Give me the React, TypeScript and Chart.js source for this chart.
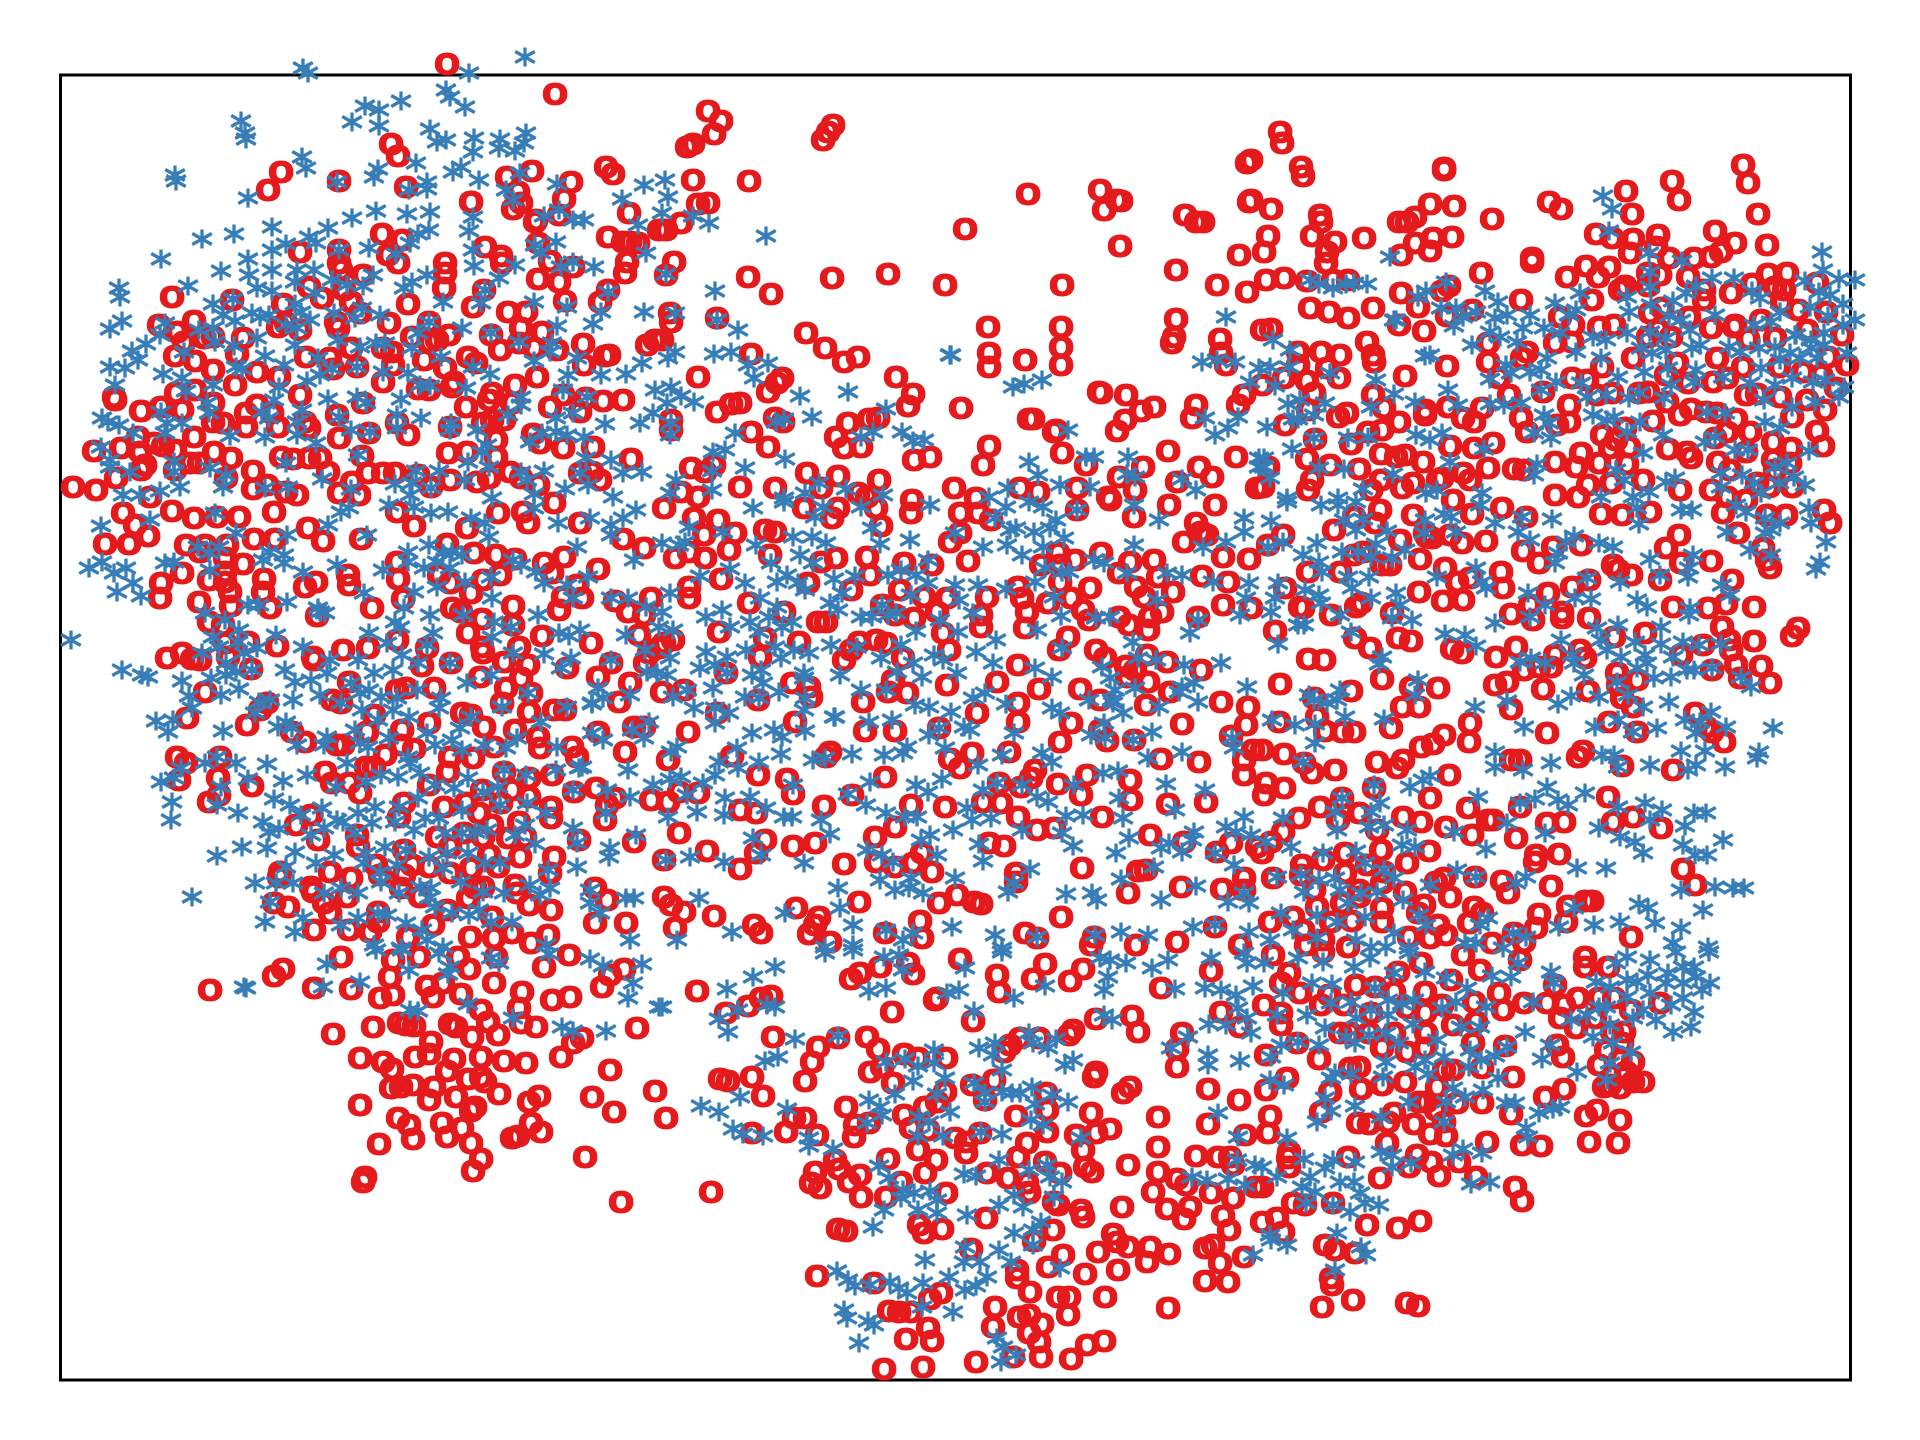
import React, { useEffect, useRef } from "react";
import { Chart, registerables } from "chart.js";

Chart.register(...registerables);

type P = [number, number];

const xRange: P = [60.5, 1850.5];
const yRange: P = [75, 1380];

const redTopLeft: P[] = [[447,64],[555,94],[391,144],[398,156],[281,172],[268,190],[339,181],[406,187],[471,202],[507,177],[532,171],[518,192],[513,209],[521,203],[571,182],[564,199],[606,167],[613,174],[629,213],[536,220],[535,222],[559,215],[382,234],[402,240],[388,255],[398,263],[300,252],[339,250],[339,263],[341,270],[363,275],[309,287],[322,298],[344,290],[351,302],[360,313],[445,263],[445,273],[444,288],[485,247],[501,256],[502,263],[538,243],[550,261],[573,267],[538,279],[559,282],[565,301],[608,237],[623,242],[638,243],[630,242],[627,262],[625,273],[659,230],[608,290],[600,302],[484,290],[473,307],[508,312],[526,312],[521,328],[542,332],[408,304],[172,297],[232,300],[283,304],[194,321],[159,325],[177,332],[204,338],[213,337],[184,342],[243,338],[175,356],[195,361],[213,370],[237,354],[235,385],[257,372],[279,377],[306,357],[330,358],[333,369],[357,367],[351,348],[389,323],[383,348],[392,352],[393,365],[383,382],[336,322],[338,328],[278,327],[300,330],[286,323],[429,322],[412,337],[449,335],[437,340],[429,342],[424,360],[468,357],[476,363],[445,368],[491,335],[500,350],[519,343],[534,348],[557,350],[583,344],[584,365],[605,356],[609,355],[647,345],[655,340],[537,377],[515,385],[492,393],[489,400],[466,407],[452,387],[454,382],[429,390],[418,389],[512,403],[483,423],[492,420],[504,420],[496,440],[496,457],[450,427],[448,453],[467,452],[550,407],[563,395],[580,412],[586,398],[603,401],[623,400],[533,434],[540,443],[563,448],[593,447],[631,459],[592,472],[580,473],[600,480],[538,485],[521,478],[489,478],[477,482],[510,472],[450,480],[418,475],[431,487],[395,473],[383,473],[368,473],[362,456],[352,482],[339,493],[359,495],[328,472],[320,458],[309,458],[293,459],[281,457],[339,438],[369,433],[408,435],[397,423],[363,403],[337,415],[300,395],[305,422],[309,428],[278,427],[272,413],[257,405],[246,413],[246,427],[223,423],[213,422],[213,403],[194,437],[195,390],[176,393],[182,410],[161,407],[141,411],[115,400],[114,397],[138,437],[154,443],[163,446],[175,450],[121,448],[140,452],[94,451],[145,465],[141,470],[116,478],[73,487],[96,490],[175,470],[199,463],[190,463],[214,452],[231,458],[226,478],[253,471],[253,489],[267,485],[286,492],[297,495],[150,497]];

const redTopMid: P[] = [[708,111],[721,121],[714,134],[687,147],[693,144],[833,125],[828,132],[823,140],[693,180],[749,181],[698,204],[708,203],[681,223],[666,230],[1028,194],[1100,190],[1104,210],[1117,200],[1121,201],[965,229],[1120,246],[1185,215],[1196,222],[1203,222],[1247,163],[1251,160],[1249,202],[1251,200],[674,262],[666,275],[748,277],[771,294],[832,278],[888,274],[945,285],[1062,285],[1176,270],[1217,285],[1239,255],[1247,292],[717,318],[671,322],[670,313],[662,340],[988,327],[1061,327],[1061,347],[1061,365],[989,353],[989,367],[1025,360],[1176,319],[1174,337],[1172,343],[1220,339],[1221,353],[1226,365],[806,333],[825,348],[844,362],[858,357],[751,354],[698,377],[896,377],[913,394],[908,406],[782,378],[777,383],[768,392],[717,412],[731,404],[740,403],[671,420],[671,430],[775,418],[783,422],[961,408],[1029,419],[1033,419],[1099,392],[1101,393],[1126,395],[1141,411],[1154,407],[1196,405],[1192,418],[1125,420],[1117,431],[1238,405],[1244,395],[1056,430],[1054,432],[869,419],[878,418],[848,423],[836,437],[844,448],[861,447],[751,432],[768,447],[989,446],[983,465],[1062,453],[1086,465],[1168,451],[914,460],[930,457],[1236,457],[1143,467],[1119,477],[1199,467],[1212,477],[1177,482],[691,468],[705,472],[714,465],[807,473],[838,476],[879,480],[740,487],[775,488],[821,488],[681,492],[698,497],[858,493],[867,497],[954,488],[912,500],[976,498],[1020,488],[1038,492],[1077,488],[1108,497],[1135,490],[1257,488]];

const redTopRight: P[] = [[1280,132],[1282,143],[1301,167],[1303,176],[1444,168],[1444,170],[1271,209],[1320,215],[1321,222],[1415,217],[1407,222],[1399,222],[1430,204],[1454,206],[1492,219],[1549,202],[1561,209],[1626,191],[1632,214],[1672,181],[1679,200],[1743,165],[1748,183],[1758,214],[1268,236],[1312,236],[1335,242],[1364,238],[1264,252],[1327,252],[1326,263],[1401,255],[1415,243],[1430,251],[1433,238],[1452,237],[1596,234],[1612,238],[1633,239],[1658,235],[1656,247],[1630,253],[1715,231],[1735,243],[1721,252],[1711,257],[1767,245],[1669,258],[1694,258],[1532,258],[1532,262],[1586,266],[1609,267],[1266,280],[1284,278],[1307,281],[1333,280],[1348,280],[1481,273],[1567,277],[1598,277],[1648,273],[1660,275],[1688,277],[1768,274],[1787,273],[1752,284],[1775,287],[1784,290],[1817,283],[1731,293],[1401,293],[1442,291],[1449,286],[1620,290],[1625,286],[1648,286],[1704,290],[1704,300],[1521,300],[1592,300],[1310,308],[1329,312],[1348,318],[1373,308],[1418,307],[1472,310],[1560,317],[1662,308],[1650,313],[1689,317],[1761,320],[1798,310],[1826,312],[1782,302],[1735,325],[1734,327],[1711,328],[1807,330],[1399,325],[1424,331],[1447,316],[1573,325],[1599,327],[1614,325],[1648,337],[1671,337],[1658,330],[1262,330],[1271,329],[1748,339],[1775,338],[1842,335],[1298,352],[1321,352],[1340,355],[1367,342],[1373,355],[1374,362],[1488,343],[1488,362],[1527,352],[1522,358],[1555,343],[1572,342],[1633,358],[1677,363],[1717,358],[1828,357],[1847,365],[1743,367],[1803,372],[1779,367],[1602,367],[1447,366],[1405,376],[1327,368],[1339,378],[1298,365],[1284,378],[1307,381],[1314,393],[1262,385],[1373,395],[1666,375],[1572,378],[1587,380],[1713,382],[1688,383],[1727,378],[1821,375],[1509,395],[1499,378],[1543,392],[1612,393],[1597,395],[1639,393],[1648,392],[1667,402],[1746,395],[1757,394],[1780,397],[1807,400],[1836,388],[1308,410],[1384,408],[1425,410],[1425,415],[1448,407],[1482,408],[1463,418],[1474,422],[1569,405],[1569,422],[1557,425],[1521,418],[1527,432],[1653,421],[1680,415],[1691,409],[1706,412],[1717,413],[1736,419],[1792,417],[1825,410],[1338,417],[1347,413],[1285,425],[1399,422],[1382,430],[1368,432],[1315,439],[1351,444],[1450,446],[1493,443],[1474,448],[1602,435],[1625,428],[1727,432],[1750,432],[1773,442],[1791,448],[1817,431],[1823,446],[1715,438],[1668,449],[1687,452],[1691,458],[1616,440],[1629,447],[1610,448],[1581,453],[1307,459],[1268,467],[1330,465],[1359,469],[1381,454],[1396,457],[1405,455],[1423,462],[1438,480],[1463,473],[1470,480],[1488,468],[1514,469],[1524,470],[1555,462],[1576,467],[1599,463],[1627,464],[1718,462],[1730,470],[1746,452],[1773,460],[1790,463],[1775,470],[1312,480],[1308,490],[1381,480],[1402,488],[1413,483],[1442,478],[1453,500],[1588,485],[1611,483],[1643,480],[1555,495],[1578,497],[1680,490],[1711,490],[1727,497],[1757,483],[1769,487],[1792,487],[1746,500],[1371,490],[1263,487]];

const redMidLeft: P[] = [[123,513],[135,525],[172,511],[194,518],[217,517],[239,517],[274,512],[105,544],[129,544],[148,536],[186,545],[200,552],[205,545],[227,545],[254,539],[275,539],[308,528],[323,541],[361,539],[397,512],[414,526],[467,528],[498,513],[528,523],[580,523],[623,539],[644,548],[523,512],[554,503],[225,558],[225,572],[243,564],[161,583],[160,598],[182,573],[209,580],[225,582],[230,592],[264,579],[263,592],[199,602],[231,606],[270,608],[305,587],[316,582],[348,575],[349,585],[372,608],[397,562],[398,579],[403,599],[447,544],[474,553],[496,555],[515,559],[500,575],[483,580],[450,583],[439,575],[471,593],[544,563],[552,573],[564,557],[598,569],[577,585],[563,597],[582,598],[559,610],[615,601],[628,612],[651,598],[644,615],[452,608],[461,612],[482,619],[513,606],[513,625],[468,633],[482,647],[483,653],[504,662],[519,647],[528,665],[542,636],[591,643],[639,635],[649,653],[659,648],[611,663],[598,677],[630,683],[619,702],[645,663],[567,668],[521,678],[531,693],[506,688],[502,703],[480,677],[529,712],[554,710],[565,710],[422,666],[427,648],[451,663],[397,640],[368,648],[343,650],[314,660],[313,657],[277,646],[317,616],[209,622],[223,625],[225,643],[248,642],[167,658],[182,653],[192,659],[200,660],[228,657],[251,669],[205,692],[187,718],[247,725],[267,703],[260,710],[341,703],[332,700],[349,682],[374,715],[397,690],[406,688],[434,688],[429,723],[402,730],[367,732],[462,713],[471,715],[484,727],[494,747],[515,730],[538,737],[540,748],[572,747],[577,757],[598,732],[634,727],[644,727],[625,752],[292,732],[305,742],[337,745],[343,745],[385,755],[401,745],[414,749],[450,757],[473,758],[177,757],[186,763],[220,757],[179,780],[218,778],[219,795],[209,802],[252,786],[325,772],[332,783],[349,783],[360,793],[366,767],[374,767],[429,785],[448,772],[504,772],[512,790],[529,778],[552,775],[596,788],[574,792],[607,805],[615,798],[605,820],[651,800],[482,790],[466,803],[444,807],[479,813],[501,803],[529,797],[519,822],[551,807],[551,818],[404,803],[399,817],[311,815],[296,825],[318,840],[357,835],[358,847],[404,850],[437,837],[450,847],[464,833],[492,825],[483,837],[508,838],[525,837],[579,840],[634,842],[489,855],[520,857],[554,857],[550,873],[498,867],[471,868],[450,873],[429,867],[412,865],[404,875],[376,865],[380,875],[330,872],[351,878],[280,872],[279,877],[311,887],[313,892],[347,897],[324,903],[274,903],[288,907],[330,913],[401,888],[420,897],[468,898],[475,888],[483,887],[515,885],[517,893],[529,905],[551,910],[447,910],[492,917],[378,912],[378,922],[314,930],[349,930],[370,932],[408,937],[433,925],[470,937],[494,938],[512,933],[548,935],[531,943],[595,888],[607,900],[595,923],[626,923]];

const redMidMid: P[] = [[664,508],[694,518],[718,520],[704,535],[735,533],[729,550],[705,558],[675,558],[689,552],[765,530],[775,532],[770,555],[804,508],[832,518],[838,508],[876,508],[881,526],[911,513],[960,513],[978,513],[991,520],[1134,517],[1169,505],[1110,500],[1077,510],[1215,505],[821,562],[836,558],[867,557],[870,575],[904,563],[932,565],[968,561],[950,542],[960,533],[721,579],[689,587],[689,598],[749,603],[784,612],[808,583],[851,590],[900,590],[924,597],[947,598],[987,597],[937,612],[981,615],[981,627],[914,618],[895,615],[882,605],[818,622],[826,622],[719,632],[673,640],[664,643],[765,638],[799,642],[760,657],[726,673],[859,642],[876,640],[886,643],[844,660],[851,650],[903,658],[893,680],[888,692],[907,693],[863,702],[947,685],[792,683],[809,687],[811,697],[758,700],[684,690],[662,692],[717,713],[795,722],[688,732],[865,731],[895,731],[939,728],[977,713],[997,682],[1018,665],[943,633],[949,650],[1025,628],[1018,587],[1022,598],[1027,612],[1048,603],[1060,582],[1060,565],[1075,560],[1058,553],[1041,565],[1101,553],[1119,573],[1130,562],[1154,560],[1158,577],[1136,587],[1173,592],[1144,597],[1162,612],[1150,617],[1148,630],[1129,625],[1119,617],[1089,620],[1083,610],[1071,598],[1090,588],[1068,637],[1059,650],[1096,650],[1105,658],[1147,655],[1167,662],[1126,666],[1135,670],[1148,682],[1127,677],[1170,692],[1201,670],[1198,617],[1223,605],[1251,608],[1202,576],[1228,582],[1223,557],[1249,559],[1184,542],[1196,523],[1201,532],[1207,535],[1039,689],[1080,689],[1100,700],[1146,705],[1221,702],[1248,707],[1246,725],[1182,724],[1071,723],[1100,730],[1107,741],[1134,740],[1060,742],[1231,736],[1253,750],[1244,760],[1244,775],[1199,762],[1161,759],[1018,703],[1018,722],[1009,752],[972,753],[950,759],[960,768],[830,752],[826,757],[732,756],[668,760],[758,775],[787,779],[793,794],[885,777],[852,795],[824,806],[698,793],[679,792],[668,802],[740,810],[756,813],[911,805],[945,807],[983,802],[1001,803],[1018,817],[999,783],[1021,787],[1035,770],[1031,778],[1058,784],[1087,775],[1081,795],[1130,780],[1131,800],[1102,817],[1168,804],[1206,802],[1037,830],[1054,828],[679,833],[895,827],[875,837],[989,843],[1004,846],[1150,835],[1184,842],[1231,843],[1257,847],[707,851],[664,860],[765,840],[756,853],[740,869],[793,846],[815,843],[844,864],[1082,868],[876,862],[895,867],[913,863],[932,872],[922,853],[1016,873],[1138,871],[1146,870],[1217,852],[1244,878],[1016,882],[1128,893],[1181,887],[1222,889],[1244,890],[664,897],[671,905],[684,912],[714,916],[675,928],[754,925],[761,933],[796,908],[819,917],[815,925],[809,934],[859,902],[830,942],[885,933],[920,921],[922,938],[939,903],[957,895],[974,902],[981,904],[1061,917],[1025,933],[1037,938],[1094,937],[1091,945],[1136,945],[1177,942],[1215,927],[1240,945]];

const redMidRight: P[] = [[1283,535],[1268,545],[1334,530],[1354,517],[1375,523],[1380,510],[1413,515],[1427,537],[1450,535],[1462,543],[1486,541],[1472,514],[1502,508],[1526,517],[1601,514],[1622,515],[1650,512],[1723,513],[1738,533],[1786,515],[1824,510],[1830,523],[1767,515],[1679,535],[1666,548],[1681,563],[1711,561],[1763,548],[1767,560],[1770,568],[1732,580],[1660,580],[1631,575],[1618,570],[1613,565],[1589,580],[1572,587],[1548,593],[1581,545],[1553,547],[1539,563],[1523,551],[1425,533],[1432,538],[1400,540],[1354,555],[1308,572],[1340,572],[1363,552],[1390,565],[1382,565],[1420,559],[1445,568],[1501,572],[1503,588],[1457,582],[1470,578],[1285,588],[1300,607],[1303,608],[1331,615],[1356,607],[1361,603],[1392,613],[1419,592],[1443,601],[1463,600],[1511,614],[1530,605],[1533,620],[1562,612],[1562,618],[1589,618],[1673,607],[1708,608],[1726,604],[1754,607],[1275,631],[1355,638],[1370,648],[1398,638],[1411,641],[1452,649],[1462,653],[1496,657],[1516,647],[1524,670],[1539,667],[1555,655],[1551,667],[1580,650],[1585,658],[1614,637],[1645,633],[1722,627],[1729,640],[1731,650],[1736,665],[1754,641],[1761,666],[1703,645],[1681,655],[1712,670],[1740,678],[1770,683],[1798,628],[1792,636],[1308,659],[1324,660],[1382,679],[1280,684],[1351,691],[1411,687],[1438,688],[1495,685],[1507,682],[1543,689],[1588,691],[1617,673],[1618,685],[1637,680],[1622,698],[1633,707],[1314,698],[1402,707],[1419,707],[1511,709],[1317,717],[1279,722],[1325,731],[1342,732],[1354,732],[1391,728],[1470,723],[1469,742],[1547,733],[1609,722],[1637,732],[1695,713],[1706,727],[1712,732],[1724,742],[1262,750],[1284,754],[1304,763],[1312,773],[1335,770],[1377,762],[1397,768],[1403,760],[1421,747],[1433,744],[1444,735],[1511,760],[1520,760],[1578,757],[1583,751],[1622,766],[1673,770],[1449,775],[1266,783],[1264,795],[1284,788],[1374,788],[1430,798],[1320,807],[1342,798],[1608,797],[1299,818],[1338,820],[1359,813],[1403,817],[1421,822],[1446,827],[1377,830],[1468,808],[1472,835],[1488,820],[1493,820],[1520,807],[1547,823],[1564,822],[1516,838],[1613,822],[1633,817],[1661,828],[1283,832],[1271,842],[1262,853],[1302,865],[1323,860],[1345,853],[1381,850],[1367,865],[1407,863],[1429,851],[1536,855],[1535,862],[1559,854],[1683,869],[1695,885],[1273,878],[1301,875],[1345,873],[1384,872],[1314,890],[1359,890],[1382,883],[1405,892],[1444,878],[1436,882],[1450,897],[1475,877],[1502,881],[1508,893],[1551,886],[1317,907],[1342,903],[1359,897],[1382,908],[1382,922],[1424,905],[1418,913],[1474,907],[1482,913],[1568,906],[1585,901],[1592,901],[1539,914],[1469,923],[1438,925],[1352,921],[1331,922],[1293,917],[1270,922],[1303,930],[1323,940],[1306,945],[1348,947],[1409,937],[1430,938],[1446,935],[1492,943],[1514,933],[1524,942],[1536,928],[1566,922],[1631,937]];

const redLowLeft: P[] = [[210,990],[274,976],[283,969],[314,988],[351,989],[341,957],[393,960],[419,957],[390,977],[393,995],[380,998],[427,986],[433,997],[443,983],[469,969],[458,957],[461,994],[494,983],[496,957],[522,992],[544,967],[569,955],[552,1000],[570,997],[602,987],[610,975],[624,969],[519,1008],[481,1010],[488,1022],[521,1023],[536,1027],[498,1035],[472,1037],[456,1027],[450,1024],[406,1025],[414,1026],[399,1023],[373,1027],[333,1034],[431,1042],[582,1038],[573,1043],[637,1028],[561,1057],[429,1054],[415,1057],[454,1059],[481,1057],[504,1061],[526,1063],[360,1058],[383,1062],[392,1069],[447,1071],[610,1070],[468,1079],[481,1077],[485,1082],[391,1088],[401,1087],[413,1085],[434,1087],[429,1100],[456,1097],[499,1094],[529,1102],[539,1096],[592,1097],[614,1112],[655,1091],[360,1105],[475,1107],[471,1111],[398,1118],[409,1125],[442,1123],[531,1123],[541,1132],[462,1128],[447,1137],[413,1139],[379,1144],[471,1143],[512,1138],[518,1136],[585,1157],[481,1159],[473,1171],[365,1177],[363,1182],[621,1202]];

const redLowMid: P[] = [[697,991],[726,1013],[748,1006],[761,998],[771,996],[851,979],[860,973],[880,967],[908,963],[913,974],[960,959],[997,975],[999,992],[1033,979],[1045,964],[1070,981],[1083,969],[935,1000],[937,998],[892,1012],[973,1021],[1161,988],[1211,971],[1221,1012],[1240,1027],[1096,1019],[1132,1016],[1138,1032],[1073,1030],[1069,1035],[773,1037],[838,1038],[818,1047],[812,1062],[805,1081],[867,1037],[878,1049],[870,1072],[904,1054],[918,1058],[946,1058],[893,1083],[882,1067],[1020,1038],[1010,1045],[1004,1052],[1039,1038],[972,1085],[994,1080],[945,1092],[1182,1033],[1177,1049],[1177,1067],[1096,1072],[1094,1077],[1130,1087],[1123,1093],[1208,1089],[1239,1100],[720,1079],[728,1081],[752,1077],[763,1096],[985,1100],[1046,1093],[846,1107],[925,1107],[937,1102],[904,1115],[911,1128],[1016,1116],[1047,1110],[1091,1113],[1158,1117],[1208,1124],[1245,1135],[666,1118],[794,1118],[805,1118],[786,1132],[817,1135],[752,1133],[855,1125],[869,1123],[854,1137],[928,1130],[955,1138],[980,1133],[966,1142],[1047,1132],[1076,1135],[1096,1133],[1110,1129],[1027,1143],[1083,1150],[1158,1147],[918,1150],[966,1153],[936,1160],[888,1159],[835,1160],[839,1169],[815,1172],[811,1183],[820,1188],[849,1182],[860,1175],[861,1197],[901,1182],[886,1197],[925,1173],[946,1193],[987,1173],[1008,1178],[1018,1157],[1027,1183],[1029,1193],[1045,1162],[1060,1173],[1085,1167],[1092,1172],[1128,1165],[1158,1172],[1177,1179],[1186,1185],[1196,1156],[1218,1157],[1230,1157],[1233,1165],[1153,1192],[1211,1193],[1233,1198],[1255,1187],[711,1192],[1190,1207],[1167,1209],[1122,1207],[1081,1210],[1083,1217],[1054,1202],[1058,1205],[1029,1192],[1184,1219],[1223,1216],[1229,1230],[838,1229],[846,1231],[919,1225],[924,1233],[942,1229],[986,1218],[1053,1230],[1034,1241],[971,1249],[1113,1234],[1117,1242],[1128,1247],[1150,1247],[1169,1254],[1147,1262],[1098,1252],[1118,1270],[1085,1274],[1063,1255],[1048,1267],[1205,1248],[1213,1245],[1220,1263],[1244,1257],[1205,1281],[1228,1282],[1017,1270],[1017,1278],[1030,1292],[1058,1297],[1069,1297],[1105,1297],[1068,1315],[1168,1308],[817,1276],[874,1283],[941,1293],[930,1299],[889,1311],[899,1312],[911,1312],[995,1307],[1019,1317],[1029,1315],[993,1327],[1042,1324],[1029,1333],[928,1328],[906,1339],[932,1341],[1039,1342],[1087,1345],[1104,1341],[1013,1357],[1041,1357],[1071,1359],[976,1362],[884,1369],[923,1367]];

const redLowRight: P[] = [[1273,955],[1289,973],[1281,983],[1300,993],[1264,1005],[1281,1013],[1281,1025],[1323,952],[1321,1005],[1329,995],[1340,1033],[1344,1005],[1356,985],[1375,987],[1394,992],[1398,972],[1421,963],[1425,992],[1371,1013],[1369,1033],[1382,1047],[1394,1033],[1407,1008],[1425,1013],[1442,1005],[1451,980],[1453,1025],[1463,955],[1480,970],[1474,1002],[1476,1022],[1499,993],[1503,1010],[1520,960],[1524,1003],[1547,1003],[1555,985],[1560,1018],[1564,1005],[1578,998],[1576,1028],[1595,1018],[1585,967],[1585,957],[1608,967],[1599,998],[1614,998],[1631,1010],[1660,1003],[1624,1032],[1612,1032],[1622,1043],[1606,1050],[1633,1062],[1599,1065],[1620,1060],[1626,1072],[1643,1082],[1633,1082],[1604,1087],[1620,1088],[1610,1085],[1563,1057],[1557,1045],[1505,1046],[1473,1043],[1426,1033],[1407,1052],[1382,1048],[1425,1048],[1350,1033],[1297,1043],[1266,1055],[1319,1059],[1350,1068],[1359,1067],[1287,1078],[1266,1090],[1361,1089],[1330,1092],[1382,1085],[1405,1082],[1437,1087],[1444,1070],[1453,1070],[1482,1068],[1513,1077],[1564,1089],[1545,1097],[1426,1102],[1419,1102],[1436,1110],[1457,1103],[1482,1103],[1511,1114],[1321,1112],[1270,1116],[1268,1133],[1358,1123],[1369,1124],[1388,1122],[1394,1113],[1414,1124],[1430,1134],[1446,1136],[1444,1122],[1387,1143],[1487,1142],[1522,1145],[1541,1146],[1586,1116],[1597,1110],[1620,1120],[1589,1142],[1618,1143],[1289,1152],[1288,1158],[1289,1167],[1348,1157],[1417,1155],[1409,1167],[1431,1162],[1459,1162],[1439,1176],[1476,1177],[1380,1178],[1262,1187],[1515,1187],[1522,1201],[1333,1203],[1293,1203],[1305,1205],[1277,1218],[1262,1222],[1283,1232],[1367,1225],[1398,1228],[1420,1221],[1325,1245],[1335,1250],[1355,1253],[1331,1278],[1332,1285],[1353,1300],[1322,1307],[1407,1303],[1418,1306]];

const blueTopLeft: P[] = [[303,68],[308,73],[469,73],[525,57],[446,90],[450,97],[465,107],[401,101],[365,106],[379,110],[352,122],[379,126],[241,121],[245,133],[246,139],[430,129],[437,142],[446,140],[474,138],[473,152],[500,139],[499,148],[515,151],[526,133],[524,143],[302,157],[306,168],[416,163],[378,169],[374,177],[461,167],[453,172],[175,175],[176,181],[337,182],[427,182],[427,189],[409,190],[479,180],[520,173],[506,190],[513,200],[557,184],[644,185],[248,198],[622,199],[544,216],[559,210],[573,220],[584,220],[473,217],[469,231],[376,211],[407,214],[430,212],[352,218],[429,230],[418,234],[272,227],[328,228],[309,237],[316,243],[234,234],[202,239],[286,244],[272,250],[339,250],[369,248],[410,243],[396,254],[473,250],[556,242],[535,245],[541,253],[638,225],[646,253],[161,259],[248,259],[221,271],[249,275],[272,270],[297,270],[314,270],[295,282],[332,280],[347,285],[363,286],[373,275],[474,266],[515,265],[499,278],[427,275],[412,282],[404,288],[485,290],[561,267],[573,262],[594,267],[188,286],[119,288],[120,297],[257,288],[272,291],[315,293],[443,302],[481,303],[534,302],[608,292],[567,307],[644,312],[213,304],[233,299],[223,315],[235,321],[252,313],[269,315],[260,317],[295,304],[301,312],[310,320],[334,313],[362,308],[355,318],[380,315],[601,312],[593,324],[557,326],[122,321],[110,329],[165,323],[160,335],[199,330],[213,328],[215,342],[146,344],[132,351],[138,360],[184,352],[257,338],[234,346],[286,325],[297,328],[295,345],[338,340],[360,347],[376,343],[385,343],[412,348],[462,328],[429,322],[418,333],[491,333],[519,342],[552,343],[550,352],[441,357],[265,356],[284,365],[236,367],[242,369],[110,367],[125,368],[163,374],[182,378],[318,358],[320,375],[332,369],[357,367],[307,381],[279,387],[408,373],[383,372],[473,367],[490,374],[534,361],[577,358],[568,375],[601,375],[626,374],[642,363],[115,385],[213,385],[420,385],[430,386],[186,391],[466,388],[521,397],[655,390],[563,390],[587,397],[207,403],[274,400],[328,399],[357,397],[366,403],[401,399],[521,405],[302,410],[161,412],[209,413],[262,412],[269,418],[297,422],[102,418],[108,422],[119,425],[182,423],[167,423],[339,417],[397,415],[421,418],[451,423],[508,415],[556,418],[573,413],[605,424],[640,423],[653,413],[556,432],[351,430],[370,432],[397,428],[477,430],[450,430],[165,433],[133,433],[230,436],[265,437],[297,435],[316,443],[584,437],[567,435],[542,433],[530,442],[487,445],[482,452],[101,447],[110,460],[110,467],[358,455],[174,462],[174,472],[468,462],[489,467],[586,458],[611,460],[286,463],[210,468],[130,472],[416,471],[439,471],[544,471],[521,472],[580,473],[623,473],[642,472],[527,480],[395,484],[412,483],[431,488],[465,480],[588,485],[180,487],[226,475],[223,487],[265,488],[288,487],[322,479],[160,491],[123,495],[140,495],[351,489],[565,489],[534,494],[613,497],[410,495],[492,498]];

const blueTopMid: P[] = [[665,180],[668,197],[662,213],[693,216],[709,223],[766,236],[715,291],[666,274],[675,313],[717,320],[738,330],[668,358],[675,352],[714,354],[731,352],[748,365],[768,363],[754,378],[671,387],[681,396],[667,403],[694,402],[800,396],[848,392],[950,355],[951,355],[1013,387],[1024,384],[1042,380],[1226,317],[1202,362],[1217,360],[1235,362],[1259,368],[1250,382],[886,409],[812,417],[776,422],[784,419],[671,423],[670,435],[873,432],[861,437],[902,432],[913,441],[924,440],[735,433],[1068,430],[1205,418],[1238,417],[1228,428],[1215,435],[713,452],[725,450],[785,459],[745,468],[712,471],[676,480],[712,490],[670,493],[1029,462],[1038,475],[1086,457],[1094,457],[1128,457],[1127,474],[1135,477],[1182,479],[1196,490],[1060,485],[1090,487],[1008,488],[819,483],[846,489],[805,493],[883,495],[989,497],[784,498],[1259,458],[1259,467]];

const blueTopRight: P[] = [[1603,196],[1612,209],[1609,231],[1390,257],[1649,253],[1682,261],[1822,252],[1823,270],[1839,279],[1855,280],[1805,281],[1734,278],[1712,278],[1696,286],[1686,293],[1673,301],[1752,291],[1760,298],[1819,292],[1830,295],[1843,304],[1810,307],[1780,312],[1828,316],[1855,320],[1843,325],[1771,322],[1754,325],[1795,335],[1824,333],[1811,340],[1310,280],[1319,284],[1333,288],[1346,284],[1367,284],[1354,283],[1446,282],[1426,291],[1418,297],[1485,291],[1498,302],[1580,293],[1627,297],[1650,287],[1650,272],[1555,303],[1441,308],[1456,308],[1463,317],[1476,312],[1507,315],[1530,315],[1495,318],[1569,315],[1576,310],[1629,312],[1651,305],[1669,316],[1681,320],[1715,315],[1394,320],[1454,326],[1544,328],[1523,328],[1490,332],[1500,337],[1560,333],[1593,337],[1606,340],[1627,333],[1650,332],[1666,338],[1690,330],[1273,340],[1290,350],[1472,345],[1517,342],[1576,352],[1700,345],[1692,348],[1641,348],[1666,350],[1729,347],[1740,352],[1759,348],[1775,347],[1790,353],[1796,335],[1811,348],[1824,345],[1847,353],[1652,353],[1547,358],[1425,356],[1430,355],[1601,358],[1780,360],[1800,358],[1817,358],[1270,367],[1289,367],[1506,365],[1511,373],[1530,372],[1541,370],[1668,368],[1696,370],[1644,372],[1761,368],[1330,373],[1376,380],[1275,386],[1490,379],[1618,377],[1556,382],[1581,383],[1723,377],[1694,382],[1750,383],[1792,378],[1775,385],[1813,382],[1825,380],[1844,387],[1671,385],[1448,390],[1394,394],[1541,390],[1587,397],[1606,395],[1639,393],[1629,398],[1664,398],[1764,400],[1815,402],[1839,397],[1300,400],[1288,404],[1325,403],[1371,407],[1415,402],[1458,405],[1490,404],[1504,405],[1521,403],[1314,415],[1298,419],[1293,419],[1267,427],[1544,415],[1549,423],[1593,415],[1614,417],[1607,420],[1640,422],[1707,412],[1725,413],[1792,407],[1765,422],[1396,320],[1314,438],[1348,438],[1368,437],[1416,435],[1430,440],[1442,433],[1663,435],[1627,432],[1715,437],[1705,442],[1780,428],[1534,433],[1551,438],[1484,449],[1292,449],[1264,458],[1643,453],[1735,450],[1748,450],[1809,451],[1264,467],[1319,468],[1344,469],[1450,462],[1537,464],[1393,474],[1534,475],[1616,470],[1624,480],[1775,467],[1787,463],[1794,477],[1721,473],[1742,475],[1666,482],[1675,478],[1270,478],[1363,489],[1426,493],[1437,490],[1482,493],[1287,498],[1601,497],[1649,492],[1633,497],[1721,487],[1754,483],[1761,493],[1779,483],[1805,485],[1338,498]];

const blueMidLeft: P[] = [[101,526],[89,568],[102,562],[114,573],[126,568],[133,583],[117,592],[141,596],[165,563],[174,562],[150,520],[215,513],[236,533],[198,547],[219,547],[209,553],[210,570],[263,560],[269,552],[284,555],[284,563],[287,535],[328,525],[341,512],[349,508],[367,535],[303,572],[337,565],[248,605],[259,605],[287,602],[318,608],[325,613],[364,593],[383,570],[408,552],[408,562],[429,545],[424,568],[443,553],[437,562],[450,568],[452,552],[462,555],[448,512],[431,513],[414,507],[389,505],[471,518],[485,523],[489,537],[513,560],[521,565],[536,572],[544,583],[567,585],[588,577],[577,547],[491,577],[465,582],[437,587],[414,592],[492,598],[534,508],[558,523],[590,518],[611,525],[611,535],[623,518],[636,510],[634,560],[573,598],[611,598],[628,598],[646,607],[659,627],[205,613],[225,620],[239,630],[213,637],[238,642],[219,647],[257,648],[244,653],[202,653],[226,663],[276,635],[303,647],[320,612],[369,633],[387,643],[404,608],[395,622],[400,627],[430,615],[433,633],[402,655],[427,645],[418,663],[450,663],[463,615],[494,622],[511,627],[492,637],[513,653],[538,615],[559,633],[569,636],[580,630],[544,654],[571,658],[561,668],[626,635],[645,650],[611,660],[647,672],[657,673],[598,688],[603,698],[592,704],[630,695],[71,640],[122,670],[142,675],[148,677],[182,681],[189,696],[211,678],[221,695],[239,689],[226,675],[236,672],[252,670],[192,708],[156,721],[173,720],[168,732],[223,731],[255,713],[270,700],[259,702],[286,722],[278,727],[292,728],[285,670],[295,682],[311,680],[293,700],[320,695],[330,660],[358,660],[327,673],[374,673],[393,670],[351,683],[341,703],[360,693],[381,697],[369,690],[397,698],[417,690],[441,698],[439,708],[393,710],[409,717],[362,710],[378,720],[467,683],[491,675],[528,693],[502,707],[567,707],[592,703],[471,717],[541,722],[460,728],[355,730],[327,737],[324,745],[297,745],[389,738],[452,740],[435,745],[427,733],[484,745],[462,750],[506,748],[517,738],[557,747],[592,733],[603,740],[632,730],[644,738],[649,722],[360,743],[368,747],[408,757],[410,763],[420,773],[347,763],[381,775],[398,777],[366,782],[307,775],[336,787],[217,757],[205,763],[236,763],[267,764],[181,768],[174,778],[161,782],[221,787],[248,779],[283,781],[172,802],[171,820],[217,805],[238,813],[274,799],[290,805],[263,822],[279,829],[269,832],[301,815],[322,808],[324,828],[311,835],[337,820],[343,822],[358,813],[375,807],[372,823],[355,833],[399,807],[395,822],[418,798],[414,830],[425,818],[439,818],[435,785],[454,788],[468,778],[504,770],[526,775],[498,787],[483,792],[462,810],[500,805],[527,803],[546,813],[556,770],[579,768],[582,767],[573,790],[607,790],[630,797],[653,785],[628,770],[606,813],[573,828],[577,843],[445,833],[462,833],[475,832],[487,830],[515,835],[525,825],[535,844],[636,835],[242,847],[217,856],[267,848],[295,852],[334,855],[316,863],[385,847],[406,850],[366,853],[429,857],[447,853],[468,853],[397,865],[364,863],[443,868],[500,863],[485,863],[380,872],[548,870],[577,867],[610,848],[609,857],[286,867],[255,883],[192,897],[276,883],[293,883],[381,882],[341,888],[358,893],[324,893],[399,893],[420,887],[431,888],[461,882],[483,892],[504,893],[530,885],[550,888],[540,895],[590,890],[590,903],[600,913],[626,898],[634,898],[270,902],[265,922],[303,918],[295,932],[358,918],[341,925],[378,913],[387,915],[429,898],[435,907],[452,913],[469,915],[479,910],[491,922],[512,922],[406,923],[422,930],[374,945],[401,948],[427,940],[443,947],[546,945],[630,940]];

const blueMidMid: P[] = [[753,508],[784,502],[815,517],[823,507],[861,507],[930,505],[1006,507],[1029,502],[1043,507],[1077,510],[1134,505],[1159,520],[1244,518],[1244,532],[689,527],[723,532],[679,545],[662,543],[685,542],[756,545],[793,537],[812,537],[826,543],[872,528],[880,544],[910,540],[995,518],[1010,530],[1016,528],[1056,520],[1050,528],[1064,538],[1034,532],[955,533],[983,547],[1007,545],[1022,555],[1043,547],[1134,545],[1203,547],[1226,542],[800,555],[771,563],[813,563],[928,560],[1094,560],[1104,563],[700,576],[730,569],[745,583],[777,582],[787,575],[798,583],[805,590],[834,579],[855,576],[888,575],[901,570],[916,575],[928,583],[955,585],[978,585],[1006,589],[1035,582],[1045,568],[1062,572],[1069,572],[1127,573],[1167,573],[1182,575],[1213,582],[1249,583],[670,593],[760,598],[842,593],[911,595],[959,600],[1054,597],[1157,600],[1246,598],[777,607],[830,603],[838,610],[662,612],[722,610],[706,617],[769,617],[792,622],[750,622],[861,617],[872,617],[888,615],[896,613],[882,605],[940,620],[973,613],[1061,616],[1096,618],[1110,617],[1198,620],[1240,615],[673,630],[730,627],[782,627],[759,632],[916,631],[958,632],[1037,630],[1190,633],[996,640],[901,645],[831,645],[857,647],[775,647],[706,652],[746,650],[794,650],[809,653],[976,652],[1062,648],[1133,642],[670,658],[727,657],[781,658],[881,658],[913,663],[934,655],[943,660],[993,663],[700,668],[715,665],[840,675],[667,675],[752,675],[761,670],[727,673],[804,673],[922,677],[957,673],[1035,668],[1052,677],[1138,658],[1156,660],[1102,667],[1184,665],[1221,663],[897,672],[1110,678],[1135,688],[1194,683],[1182,687],[763,683],[804,678],[713,688],[861,690],[886,690],[985,693],[1115,690],[1247,687],[673,697],[687,690],[745,697],[759,698],[779,692],[805,698],[973,698],[1112,700],[1179,692],[1198,702],[694,708],[715,708],[729,713],[804,710],[915,705],[929,707],[951,712],[1006,704],[1052,708],[1089,700],[1113,703],[1123,713],[1159,707],[834,717],[835,717],[715,723],[869,722],[892,720],[964,727],[1060,713],[1104,723],[752,733],[774,730],[805,731],[782,737],[929,735],[939,728],[970,730],[1014,733],[1091,735],[1105,738],[1133,740],[1152,732],[1232,738],[1234,748],[677,747],[671,752],[737,748],[781,754],[852,754],[884,755],[907,747],[903,753],[945,748],[813,760],[825,758],[1002,755],[1042,753],[1182,752],[1148,758],[719,762],[738,768],[759,762],[978,765],[1052,762],[681,777],[670,779],[715,775],[703,783],[793,785],[870,782],[916,785],[942,779],[997,783],[1022,785],[1074,785],[1103,773],[1118,771],[1166,784],[1205,790],[687,795],[928,792],[983,790],[1037,797],[848,794],[1048,802],[1119,798],[725,798],[750,797],[697,812],[766,808],[724,815],[784,817],[792,817],[821,820],[866,805],[886,813],[905,817],[917,817],[967,808],[972,820],[991,818],[1066,816],[1083,815],[1123,818],[1175,810],[668,817],[1244,817],[1022,830],[953,830],[830,834],[753,838],[930,835],[921,840],[1062,833],[1194,832],[1129,838],[1226,827],[1236,832],[1073,846],[1192,840],[1251,835],[979,844],[1116,853],[1169,843],[1161,848],[1182,852],[1215,853],[867,850],[937,855],[882,855],[761,855],[690,857],[666,860],[724,862],[804,863],[893,862],[983,861],[1030,869],[1154,867],[1234,865],[880,880],[911,878],[955,878],[909,888],[895,890],[923,893],[838,888],[1014,883],[1008,892],[1121,879],[1196,886],[1066,894],[1092,893],[1097,900],[1161,900],[1228,902],[1249,903],[1244,893],[699,898],[840,908],[785,913],[853,925],[952,927],[732,932],[886,930],[913,933],[903,940],[995,935],[1037,937],[1095,935],[1121,932],[1148,935],[1193,927],[1215,925],[1249,932],[677,940],[853,945],[825,947],[1002,948]];

const blueMidRight: P[] = [[1287,502],[1321,505],[1338,505],[1356,502],[1271,521],[1344,520],[1363,519],[1356,530],[1387,531],[1425,520],[1424,533],[1444,514],[1451,517],[1456,532],[1480,505],[1495,523],[1518,532],[1522,517],[1530,540],[1552,519],[1574,536],[1566,542],[1558,553],[1555,563],[1599,543],[1613,547],[1637,508],[1639,524],[1681,510],[1692,510],[1736,505],[1746,512],[1765,518],[1780,523],[1765,533],[1771,530],[1727,532],[1811,523],[1809,508],[1826,542],[1750,550],[1771,555],[1650,559],[1693,555],[1689,568],[1688,577],[1660,575],[1820,562],[1816,569],[1722,585],[1730,595],[1283,542],[1268,547],[1317,543],[1303,555],[1342,552],[1358,552],[1376,544],[1371,557],[1392,558],[1405,550],[1319,562],[1322,572],[1348,577],[1369,577],[1437,577],[1476,568],[1482,582],[1486,588],[1620,582],[1587,578],[1278,583],[1305,590],[1319,595],[1321,603],[1352,588],[1371,598],[1396,593],[1275,598],[1271,612],[1400,605],[1340,615],[1392,618],[1412,620],[1298,625],[1304,625],[1528,593],[1545,605],[1530,617],[1575,598],[1591,599],[1637,600],[1647,607],[1689,615],[1690,608],[1495,623],[1597,628],[1618,625],[1601,640],[1351,632],[1278,644],[1445,634],[1465,635],[1476,646],[1561,640],[1607,650],[1635,642],[1661,627],[1661,644],[1683,642],[1699,645],[1721,644],[1382,657],[1379,664],[1520,662],[1531,658],[1545,663],[1572,655],[1574,663],[1621,657],[1645,655],[1647,663],[1673,657],[1637,668],[1654,678],[1671,677],[1687,670],[1694,670],[1712,668],[1741,677],[1751,687],[1584,675],[1617,682],[1418,680],[1415,695],[1309,695],[1340,690],[1314,700],[1337,700],[1327,703],[1507,701],[1475,707],[1558,704],[1571,696],[1599,697],[1628,695],[1643,707],[1669,702],[1272,720],[1295,725],[1315,724],[1345,717],[1384,719],[1524,727],[1595,727],[1618,720],[1633,732],[1657,728],[1685,720],[1700,722],[1711,712],[1696,733],[1726,727],[1773,728],[1315,743],[1495,752],[1495,767],[1523,770],[1551,763],[1602,755],[1614,755],[1618,767],[1650,765],[1681,751],[1705,751],[1696,765],[1688,770],[1725,767],[1759,752],[1757,758],[1303,762],[1430,776],[1423,780],[1410,787],[1374,785],[1547,787],[1585,793],[1535,799],[1520,803],[1558,800],[1568,805],[1478,797],[1380,803],[1342,798],[1335,812],[1618,807],[1645,803],[1662,810],[1694,813],[1706,813],[1371,812],[1283,818],[1650,820],[1685,826],[1599,828],[1723,840],[1507,823],[1337,830],[1369,827],[1384,825],[1407,830],[1454,832],[1545,833],[1620,837],[1635,842],[1643,853],[1683,845],[1695,855],[1707,855],[1486,849],[1291,847],[1402,845],[1415,847],[1266,842],[1356,851],[1323,853],[1577,868],[1606,868],[1365,863],[1384,870],[1394,878],[1457,870],[1476,877],[1526,877],[1516,883],[1430,885],[1277,877],[1301,875],[1319,880],[1335,878],[1304,892],[1340,890],[1361,893],[1377,892],[1403,900],[1681,890],[1715,887],[1733,888],[1744,888],[1348,903],[1317,915],[1281,913],[1365,917],[1419,915],[1488,918],[1574,908],[1639,904],[1648,908],[1703,910],[1337,922],[1293,930],[1426,925],[1480,925],[1559,927],[1594,925],[1620,922],[1655,923],[1681,928],[1394,933],[1317,938],[1270,940],[1356,940],[1513,933],[1526,937],[1673,943],[1465,943],[1476,943],[1503,948],[1708,947],[1409,948],[1371,947],[1386,947]];

const blueLowLeft: P[] = [[246,988],[244,987],[327,964],[323,987],[360,982],[376,950],[402,950],[439,953],[409,970],[450,967],[448,974],[491,958],[499,963],[549,954],[590,959],[603,966],[642,964],[633,983],[628,998],[659,1007],[468,1004],[410,1010],[418,1011],[513,1018],[562,1027],[573,1031],[606,1031]];

const blueLowMid: P[] = [[825,953],[853,950],[884,957],[899,955],[903,970],[965,968],[1002,952],[1100,958],[1110,960],[1126,963],[1152,968],[1168,960],[1211,958],[1244,953],[1247,963],[753,977],[775,967],[727,989],[869,991],[886,988],[959,990],[947,993],[1045,986],[1108,977],[1104,990],[1014,998],[1175,989],[1205,988],[1221,990],[1236,995],[1253,986],[662,1007],[738,1010],[767,1005],[775,1007],[719,1019],[728,1032],[974,1011],[1238,1008],[1247,1018],[1104,1015],[1112,1020],[1209,1024],[1226,1025],[1251,1033],[795,1039],[838,1036],[1188,1037],[1171,1048],[934,1050],[979,1048],[995,1043],[993,1055],[1029,1033],[1033,1043],[1056,1039],[1048,1048],[765,1061],[778,1057],[886,1062],[905,1059],[918,1066],[934,1063],[1073,1060],[1065,1065],[1208,1055],[1208,1065],[1240,1061],[1002,1070],[913,1081],[945,1078],[974,1083],[740,1097],[895,1094],[937,1094],[985,1093],[985,1102],[1002,1092],[1012,1093],[1020,1093],[1032,1087],[1052,1095],[869,1100],[701,1106],[719,1112],[787,1109],[880,1107],[882,1115],[950,1112],[1035,1104],[1068,1102],[1218,1113],[867,1123],[919,1117],[929,1122],[1031,1120],[1043,1125],[733,1129],[743,1134],[763,1136],[918,1136],[943,1136],[981,1132],[1002,1134],[1081,1138],[1238,1137],[809,1138],[809,1146],[833,1149],[999,1160],[1047,1165],[879,1166],[1029,1170],[1050,1177],[1062,1182],[964,1174],[976,1176],[1237,1160],[1255,1165],[889,1178],[903,1190],[914,1193],[930,1191],[901,1198],[1192,1177],[1207,1180],[1228,1179],[1245,1185],[1014,1195],[1054,1197],[937,1200],[999,1205],[1023,1207],[918,1210],[937,1213],[884,1210],[967,1215],[873,1227],[1041,1222],[1033,1230],[1014,1233],[1033,1245],[965,1247],[999,1250],[925,1260],[964,1262],[980,1262],[1011,1262],[1060,1268],[1253,1255],[837,1271],[848,1280],[855,1286],[870,1285],[890,1282],[899,1288],[907,1293],[923,1283],[949,1277],[987,1277],[976,1286],[965,1290],[922,1307],[953,1312],[844,1310],[847,1318],[868,1321],[874,1325],[859,1343],[997,1338],[1003,1347],[1016,1355],[1001,1362]];

const blueLowRight: P[] = [[1264,963],[1298,958],[1323,962],[1354,967],[1370,958],[1409,953],[1394,973],[1425,972],[1446,978],[1492,976],[1511,977],[1518,963],[1551,972],[1554,983],[1596,982],[1616,963],[1627,957],[1650,960],[1676,952],[1709,952],[1610,987],[1627,980],[1637,982],[1648,975],[1668,973],[1666,983],[1683,967],[1694,967],[1683,983],[1696,977],[1710,983],[1702,990],[1650,993],[1627,997],[1683,998],[1671,1005],[1643,1010],[1694,1012],[1656,1020],[1691,1027],[1673,1032],[1633,1018],[1312,983],[1332,984],[1283,993],[1331,1003],[1351,1002],[1467,988],[1375,988],[1388,1000],[1414,1000],[1402,1004],[1456,1002],[1442,1008],[1486,1007],[1533,1002],[1599,1007],[1606,1007],[1587,1015],[1571,1020],[1277,1015],[1307,1015],[1356,1018],[1371,1010],[1388,1015],[1413,1024],[1461,1027],[1480,1027],[1525,1032],[1610,1025],[1593,1037],[1325,1028],[1346,1037],[1369,1035],[1386,1033],[1437,1040],[1355,1043],[1399,1043],[1298,1042],[1281,1045],[1319,1045],[1271,1057],[1507,1047],[1550,1045],[1613,1043],[1631,1052],[1470,1050],[1444,1057],[1495,1056],[1542,1059],[1425,1060],[1481,1060],[1386,1062],[1415,1067],[1469,1067],[1610,1063],[1577,1072],[1335,1073],[1351,1074],[1331,1078],[1428,1074],[1383,1077],[1498,1078],[1270,1080],[1284,1085],[1607,1080],[1453,1088],[1325,1098],[1483,1090],[1465,1097],[1409,1102],[1446,1102],[1506,1103],[1515,1103],[1355,1106],[1331,1111],[1560,1107],[1553,1109],[1539,1113],[1381,1117],[1317,1122],[1444,1122],[1526,1128],[1528,1137],[1287,1138],[1463,1149],[1482,1153],[1453,1155],[1381,1152],[1392,1155],[1304,1159],[1333,1160],[1355,1162],[1262,1167],[1325,1168],[1392,1167],[1411,1163],[1310,1177],[1277,1177],[1340,1182],[1354,1182],[1471,1184],[1490,1182],[1302,1187],[1315,1192],[1360,1193],[1306,1203],[1333,1205],[1365,1203],[1379,1205],[1350,1212],[1270,1235],[1271,1240],[1287,1245],[1337,1233],[1361,1247],[1366,1255],[1335,1270]];

const redPoints: P[] = [...redTopLeft, ...redTopMid, ...redTopRight, ...redMidLeft, ...redMidMid, ...redMidRight, ...redLowLeft, ...redLowMid, ...redLowRight];
const bluePoints: P[] = [...blueTopLeft, ...blueTopMid, ...blueTopRight, ...blueMidLeft, ...blueMidMid, ...blueMidRight, ...blueLowLeft, ...blueLowMid, ...blueLowRight];

const RED = "#e41a1c";
const BLUE = "#377eb8";

function makeO(): HTMLCanvasElement {
  const c = document.createElement("canvas");
  c.width = 44;
  c.height = 44;
  const ctx = c.getContext("2d")!;
  ctx.font = 'bold 41px "DejaVu Sans"';
  ctx.fillStyle = RED;
  ctx.textAlign = "left";
  ctx.textBaseline = "alphabetic";
  const m = ctx.measureText("o");
  const w = m.actualBoundingBoxRight + m.actualBoundingBoxLeft;
  const h = m.actualBoundingBoxAscent + m.actualBoundingBoxDescent;
  ctx.fillText("o", 22 - w / 2 + m.actualBoundingBoxLeft, 22 + h / 2 - m.actualBoundingBoxDescent);
  return c;
}

function makeStar(): HTMLCanvasElement {
  const c = document.createElement("canvas");
  c.width = 30;
  c.height = 30;
  const ctx = c.getContext("2d")!;
  ctx.strokeStyle = BLUE;
  ctx.lineWidth = 3.3;
  ctx.beginPath();
  ctx.moveTo(15, 15 - 9.5);
  ctx.lineTo(15, 15 + 9.5);
  ctx.moveTo(15 - 9.8, 15 - 5.5);
  ctx.lineTo(15 + 9.8, 15 + 5.5);
  ctx.moveTo(15 - 9.8, 15 + 5.5);
  ctx.lineTo(15 + 9.8, 15 - 5.5);
  ctx.stroke();
  return c;
}

const framePlugin = {
  id: "frame",
  beforeDatasetsDraw(chart: any) {
    const { ctx, chartArea: a } = chart;
    ctx.save();
    ctx.strokeStyle = "#000000";
    ctx.lineWidth = 3;
    ctx.strokeRect(a.left, a.top, a.right - a.left, a.bottom - a.top);
    ctx.restore();
  },
};

export default function App() {
  const ref = useRef<HTMLCanvasElement | null>(null);
  useEffect(() => {
    if (!ref.current) return;
    const chart = new Chart(ref.current, {
      type: "scatter",
      data: {
        datasets: [
          {
            label: "o",
            data: redPoints.map(([x, y]) => ({ x, y })),
            pointStyle: makeO() as any,
            pointRadius: 40,
            pointBorderWidth: 0,
            clip: false as any,
            order: 2,
          },
          {
            label: "*",
            data: bluePoints.map(([x, y]) => ({ x, y })),
            pointStyle: makeStar() as any,
            pointRadius: 40,
            pointBorderWidth: 0,
            clip: false as any,
            order: 1,
          },
        ],
      },
      options: {
        animation: false,
        responsive: false,
        events: [],
        layout: { padding: { left: xRange[0], right: 1920 - xRange[1], top: yRange[0], bottom: 1440 - yRange[1] } },
        plugins: { legend: { display: false }, tooltip: { enabled: false } },
        scales: {
          x: { type: "linear", display: false, min: xRange[0], max: xRange[1] },
          y: { type: "linear", display: false, min: yRange[0], max: yRange[1], reverse: true },
        },
      },
      plugins: [framePlugin],
    });
    return () => chart.destroy();
  }, []);
  return (
    <canvas
      ref={ref}
      width={1920}
      height={1440}
      style={{ position: "absolute", left: 0, top: 0, width: 1920, height: 1440, background: "#ffffff" }}
    />
  );
}
